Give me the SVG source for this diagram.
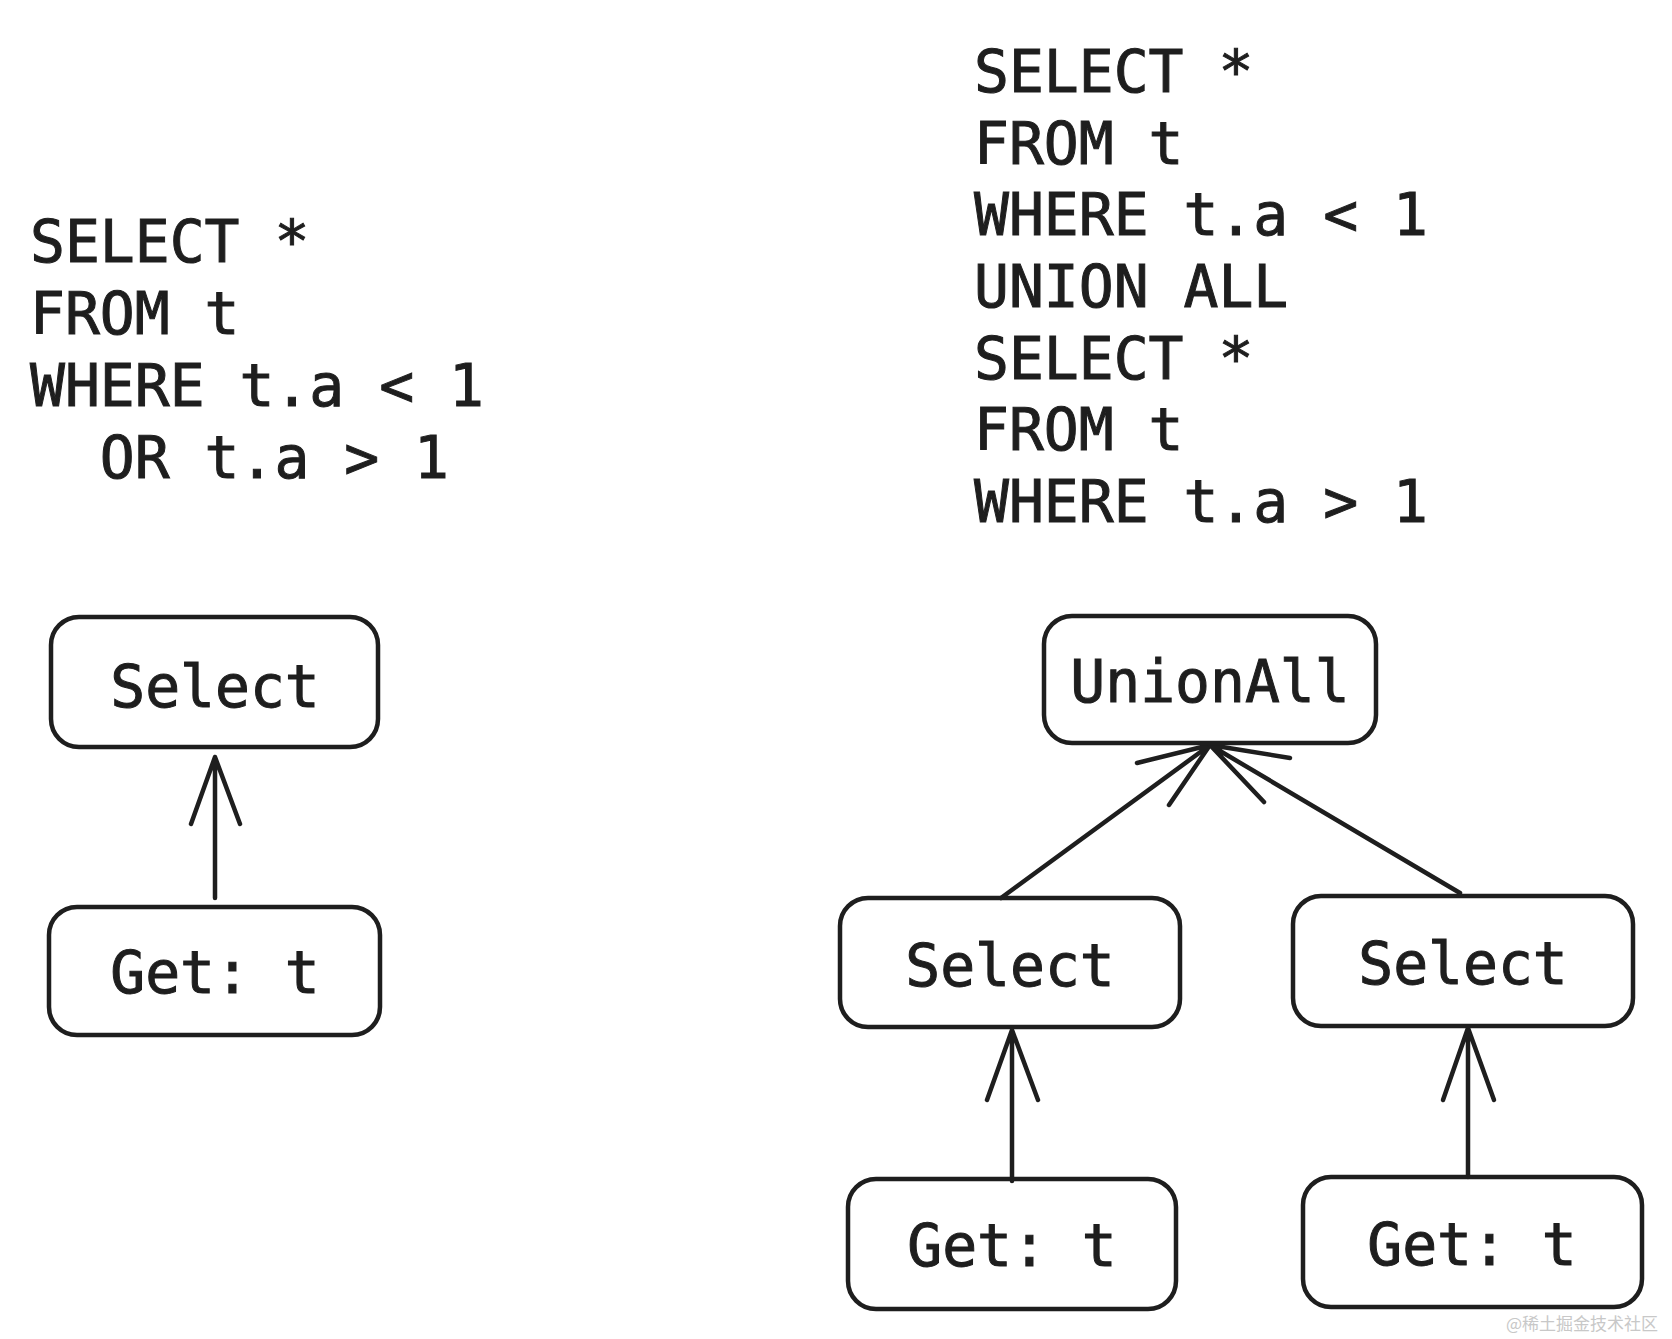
<svg xmlns="http://www.w3.org/2000/svg" width="1672" height="1339" viewBox="0 0 1672 1339">
<style>
.code{font-family:"DejaVu Sans Mono","Liberation Mono",monospace;font-size:58px;fill:#1e1e1e;stroke:#1e1e1e;stroke-width:1}
.lbl{font-family:"DejaVu Sans Mono","Liberation Mono",monospace;font-size:58px;fill:#1e1e1e;stroke:#1e1e1e;stroke-width:1;text-anchor:middle}
.box{fill:none;stroke:#1e1e1e;stroke-width:4.5}
.edge{fill:none;stroke:#1e1e1e;stroke-width:4.5;stroke-linecap:round;stroke-linejoin:round}
.wm{font-family:"Noto Sans CJK SC","Liberation Sans",sans-serif;font-size:17px;fill:#c8c8c8}
</style>
<rect width="1672" height="1339" fill="#ffffff"/>
<g id="sql-left">
<text class="code" x="30" y="262">SELECT *</text>
<text class="code" x="30" y="334">FROM t</text>
<text class="code" x="30" y="406">WHERE t.a &lt; 1</text>
<text class="code" x="30" y="478" xml:space="preserve">  OR t.a &gt; 1</text>
</g>
<g id="sql-right">
<text class="code" x="974" y="92">SELECT *</text>
<text class="code" x="974" y="164">FROM t</text>
<text class="code" x="974" y="235">WHERE t.a &lt; 1</text>
<text class="code" x="974" y="307">UNION ALL</text>
<text class="code" x="974" y="379">SELECT *</text>
<text class="code" x="974" y="450">FROM t</text>
<text class="code" x="974" y="522">WHERE t.a &gt; 1</text>
</g>
<g id="connectors">
<path class="edge" d="M215 898 L215 757 M191 824 L215 757 L240 824"/>
<path class="edge" d="M1012 1181 L1012 1030 M987 1100 L1012 1030 L1038 1100"/>
<path class="edge" d="M1468 1177 L1468 1028 M1443 1100 L1468 1028 L1494 1100"/>
<path class="edge" d="M1001 898 L1210 745 M1137 763 L1210 745 L1169 805"/>
<path class="edge" d="M1460 893 L1210 745 M1290 758 L1210 745 L1264 802"/>
</g>
<g id="n-select-left">
<rect class="box" x="51" y="617" width="327" height="130" rx="28"/>
<text class="lbl" x="215" y="707">Select</text>
</g>
<g id="n-get-left">
<rect class="box" x="49" y="907" width="331" height="128" rx="28"/>
<text class="lbl" x="215" y="993">Get: t</text>
</g>
<g id="n-unionall">
<rect class="box" x="1044" y="616" width="332" height="127" rx="28"/>
<text class="lbl" x="1210" y="702">UnionAll</text>
</g>
<g id="n-select-a">
<rect class="box" x="840" y="898" width="340" height="129" rx="28"/>
<text class="lbl" x="1010" y="986">Select</text>
</g>
<g id="n-select-b">
<rect class="box" x="1293" y="896" width="340" height="130" rx="28"/>
<text class="lbl" x="1463" y="984">Select</text>
</g>
<g id="n-get-a">
<rect class="box" x="848" y="1179" width="328" height="130" rx="28"/>
<text class="lbl" x="1012" y="1266">Get: t</text>
</g>
<g id="n-get-b">
<rect class="box" x="1303" y="1177" width="339" height="130" rx="28"/>
<text class="lbl" x="1472" y="1265">Get: t</text>
</g>
<text class="wm" x="1506" y="1330">@稀土掘金技术社区</text>
</svg>
